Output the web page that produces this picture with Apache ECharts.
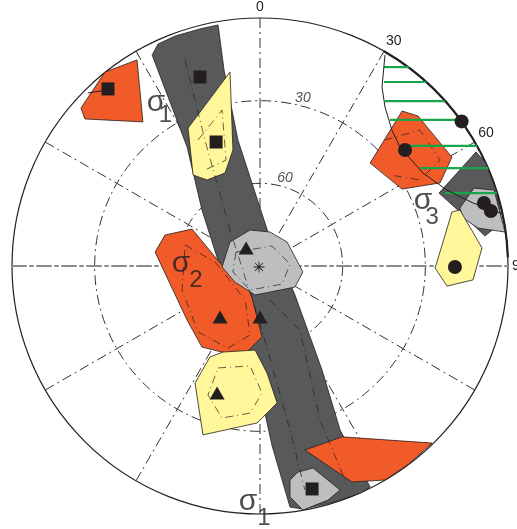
<!DOCTYPE html>
<html><head><meta charset="utf-8">
<script src="https://cdn.jsdelivr.net/npm/echarts@6/dist/echarts.min.js"></script>
<style>html,body{margin:0;padding:0;background:#fff}#chart{width:517px;height:529px}</style>
</head><body><div id="chart"></div>
<script>
// Lower-hemisphere net. Projected coordinates: primitive radius = 100, centre at origin.
const trendLabels = ['0', '30', '60', '90'];
const dipLabels = ['30', '60'];

// fields (polygons)
const girdle = [[-43.5,85.1],[-41.1,89.5],[-34.3,92.7],[-24.2,95.6],[-16.9,97.2],[-14.5,79.0],[-8.9,50.8],[3.2,13.7],[14.1,-11.7],[25.0,-41.9],[32.3,-66.1],[44.4,-89.1],[40.3,-91.7],[28.2,-95.6],[17.3,-98.0],[12.1,-97.2],[4.8,-72.2],[0.8,-54.0],[-9.3,-21.8],[-15.7,-1.6],[-23.4,22.6],[-29.4,48.0]];
const sigma1FieldA = [[-62.5,78.2],[-49.6,83.1],[-47.2,58.1],[-70.6,59.3],[-72.2,63.7]];
const sigma1FieldB = [[-29.0,55.6],[-12.1,78.2],[-10.9,46.8],[-14.1,37.5],[-21.4,34.7],[-27.0,36.7]];
const sigma2Field = [[-42.3,5.6],[-38.3,12.5],[-27.4,14.9],[-16.1,1.2],[-4.0,-9.7],[0.8,-28.6],[-7.3,-36.7],[-23.4,-32.7],[-29.4,-21.8]];
const sigma2FieldB = [[-20.2,-36.7],[-14.9,-34.7],[-2.0,-33.9],[2.8,-43.1],[6.9,-55.2],[-1.2,-63.3],[-23.0,-68.1],[-26.2,-47.2]];
const centreField = [[-12.1,9.7],[-4.0,14.5],[4.0,13.7],[10.9,9.7],[17.3,-2.4],[14.1,-8.5],[-2.0,-11.7],[-10.1,-6.5],[-15.3,-0.4]];
const southField = [[18.1,-74.2],[33.1,-68.9],[69.4,-71.4],[60.0,-79.8],[50.4,-86.3],[37.1,-87.1]];
const southFieldB = [[12.1,-86.3],[15.3,-83.1],[21.4,-81.5],[32.3,-90.3],[27.4,-94.4],[17.3,-98.4],[12.1,-93.1]];
const sigma3Field = [[57.3,62.5],[63.7,60.5],[77.4,43.9],[72.6,33.5],[57.3,31.0],[44.4,41.5]];
const sigma3FieldDark = [[72.2,29.4],[87.1,46.0],[91.1,41.5],[95.2,30.6],[97.6,17.7],[90.7,12.1],[80.6,21.8]];
const sigma3FieldLight = [[80.6,23.4],[86.3,31.4],[94.4,30.6],[98.8,13.7],[87.9,15.3],[81.8,19.4]];
const sigma3FieldB = [[77.4,21.8],[80.6,22.6],[89.5,7.3],[85.9,-5.6],[75.4,-8.1],[70.6,-0.8],[73.8,9.7]];

// inner dashed contours
const contours = [
  [[-30.2,83.1],[-22.2,50.8],[-12.1,14.5],[0.8,-25.8],[12.1,-66.1],[18.1,-90.3]],
  [[4.0,-13.7],[16.1,-25.8],[24.2,-62.1],[34.3,-86.3]],
  [[-30.2,8.5],[-18.1,1.6],[-6.0,-13.7],[-4.0,-27.8],[-12.9,-33.1],[-25.0,-26.6],[-31.4,-9.7],[-30.2,8.5]],
  [[-16.9,-41.1],[-4.0,-40.3],[0.8,-51.2],[-4.0,-59.3],[-15.3,-61.3],[-21.0,-52.0],[-16.9,-41.1]],
  [[-9.7,5.6],[4.8,8.1],[12.1,0.8],[8.9,-7.3],[-4.0,-9.7],[-10.9,-2.4],[-9.7,5.6]],
  [[-25.0,50.8],[-15.3,62.9],[-13.7,42.7],[-22.2,38.7]],
  [[50.4,50.8],[64.5,54.8],[72.6,42.7],[64.5,34.7],[52.4,36.7]]
];

// great circle bounding the hatched domain
const planeArc = [[50.4,85.1],[49.2,72.2],[50.4,64.1],[53.2,54.8],[56.4,48.0],[65.7,37.5],[75.4,30.6],[85.9,25.4],[93.9,22.6],[97.6,21.0]];
// hatching: y, start x, end x
const hatchY = [80.2, 74.2, 66.5, 58.9, 48.4, 39.5, 29.4];
const hatchX0 = [50.0, 50.0, 50.4, 52.4, 58.5, 64.5, 74.6];
const hatchX1 = [60.0, 67.0, 74.5, 80.5, 87.5, 92.0, 95.5];

// data points
const squares = [[-61.3,71.4],[-24.2,76.2],[-17.7,50.0],[21.0,-89.9]];
const triangles = [[-5.6,7.3],[-16.1,-20.6],[0,-20.6],[-17.3,-51.2]];
const dots = [[81.3,58.3],[58.5,46.8],[90.3,25.4],[93.1,22.2],[78.6,-0.4]];
const stars = [[-0.4,-0.4]];
const tieLine = [[-69.4,69.8],[-62.5,70.8]];

const INK = '#231f20';
const ORANGE = '#f15a29', DARK = '#58595b', LIGHT = '#bcbec0', YELLOW = '#fff799';
const FONT = 'Liberation Sans, Arial, sans-serif';

function field(pts, fill) {
  return {
    type: 'custom', coordinateSystem: 'cartesian2d', silent: true, z: 2,
    data: [pts[0]],
    renderItem: (p, api) => ({
      type: 'polygon',
      shape: { points: pts.map(q => api.coord(q)) },
      style: { fill: fill, stroke: INK, lineWidth: 0.8 }
    })
  };
}
function line(pts, style, z) {
  return { type: 'line', data: pts, symbol: 'none', silent: true, z: z || 3, lineStyle: style, animation: false };
}
function marks(pts, symbol, size) {
  return { type: 'scatter', data: pts, symbol: symbol, symbolSize: size, z: 5, silent: true,
    itemStyle: { color: INK, opacity: 1 } };
}
function text(pos, str, size, italic) {
  return {
    type: 'scatter', symbolSize: 0, silent: true, z: 6, data: [pos], clip: false,
    label: { show: true, position: 'inside', formatter: str, fontSize: size, fontStyle: italic ? 'italic' : 'normal', fontFamily: FONT, color: INK }
  };
}

const dashDot = [10, 4, 2, 4];
const spokeColors = ['#333','#333','#333','rgba(0,0,0,0)','#333','#333','#333','#333','#333','rgba(0,0,0,0)','#333','#333','#333'];

const series = [
  field(girdle, DARK),
  field(sigma1FieldA, ORANGE),
  field(sigma1FieldB, YELLOW),
  field(sigma2Field, ORANGE),
  field(sigma2FieldB, YELLOW),
  field(centreField, LIGHT),
  field(southField, ORANGE),
  field(southFieldB, LIGHT),
  field(sigma3Field, ORANGE),
  field(sigma3FieldDark, DARK),
  field(sigma3FieldLight, LIGHT),
  field(sigma3FieldB, YELLOW)
];
contours.forEach(c => series.push(line(c, { color: INK, width: 0.7, type: [8, 4, 1, 4] }, 3)));
hatchY.forEach((y, i) => series.push(line([[hatchX0[i], y], [hatchX1[i], y]], { color: '#19a64b', width: 2.2 }, 4)));
series.push(line(planeArc, { color: INK, width: 1 }, 4));
series.push(line(tieLine, { color: INK, width: 1 }, 4));
series.push(marks(squares, 'rect', 13));
series.push(marks(triangles, 'triangle', [15, 13]));
series.push(marks(dots, 'circle', 14));
series.push(marks(stars,
  'path://M-0.4,-5 H0.4 V5 H-0.4 Z M-5,-0.4 H5 V0.4 H-5 Z M-3.8,-3.3 L-3.3,-3.8 L3.8,3.3 L3.3,3.8 Z M3.3,-3.8 L3.8,-3.3 L-3.3,3.8 L-3.8,3.3 Z', 11));

// principal stress labels
series.push(text([-41.9, 65.7], 'σ', 30), text([-38.1, 60.7], '1', 24));
series.push(text([-4.8, -95.2], 'σ', 30), text([1.6, -101.6], '1', 24));
series.push(text([-31.9, 0.8], 'σ', 30), text([-25.8, -5.6], '2', 24));
series.push(text([65.7, 26.2], 'σ', 30), text([69.4, 19.8], '3', 24));
// dip circle labels
series.push(text([17.3, 67.7], dipLabels[0], 14, true), text([10.1, 35.5], dipLabels[1], 14, true));

const option = {
  animation: false,
  backgroundColor: '#fff',
  grid: { left: 12, top: 18, width: 496, height: 496 },
  xAxis: { type: 'value', min: -100, max: 100, axisLabel: { show: false }, axisTick: { show: false }, splitLine: { show: false },
    axisLine: { onZero: true, lineStyle: { color: '#8c8c8c', width: 2, type: [14, 4, 3, 4] } } },
  yAxis: { type: 'value', min: -100, max: 100, axisLabel: { show: false }, axisTick: { show: false }, splitLine: { show: false },
    axisLine: { show: false } },
  polar: [
    { center: [260, 266], radius: 248 },
    { center: [260, 266], radius: 248 }
  ],
  angleAxis: [
    { polarIndex: 0, type: 'value', min: 0, max: 360, interval: 30, startAngle: 90, clockwise: true,
      axisLine: { lineStyle: { color: INK, width: 1.2 } },
      axisTick: { show: false },
      axisLabel: { margin: 4, fontSize: 14, color: INK, fontFamily: FONT,
        formatter: v => trendLabels.includes(String(v)) ? String(v) : '' },
      splitLine: { show: true, lineStyle: { color: spokeColors, width: 1, type: dashDot } } },
    { polarIndex: 1, type: 'value', min: 30, max: 88, startAngle: 60, endAngle: 2, clockwise: true,
      axisLine: { lineStyle: { color: INK, width: 2.2 } },
      axisTick: { show: false }, axisLabel: { show: false }, splitLine: { show: false } }
  ],
  radiusAxis: [
    { polarIndex: 0, type: 'value', min: 0, max: 90, interval: 30, inverse: true,
      axisLine: { show: false }, axisTick: { show: false }, axisLabel: { show: false },
      splitLine: { show: true, lineStyle: { color: ['rgba(0,0,0,0)', '#333', '#333', 'rgba(0,0,0,0)'], width: 1, type: dashDot } } },
    { polarIndex: 1, type: 'value', min: 0, max: 1, show: false }
  ],
  series: series
};

const chart = echarts.init(document.getElementById('chart'), null, { renderer: 'canvas' });
chart.setOption(option);
</script>
</body></html>
